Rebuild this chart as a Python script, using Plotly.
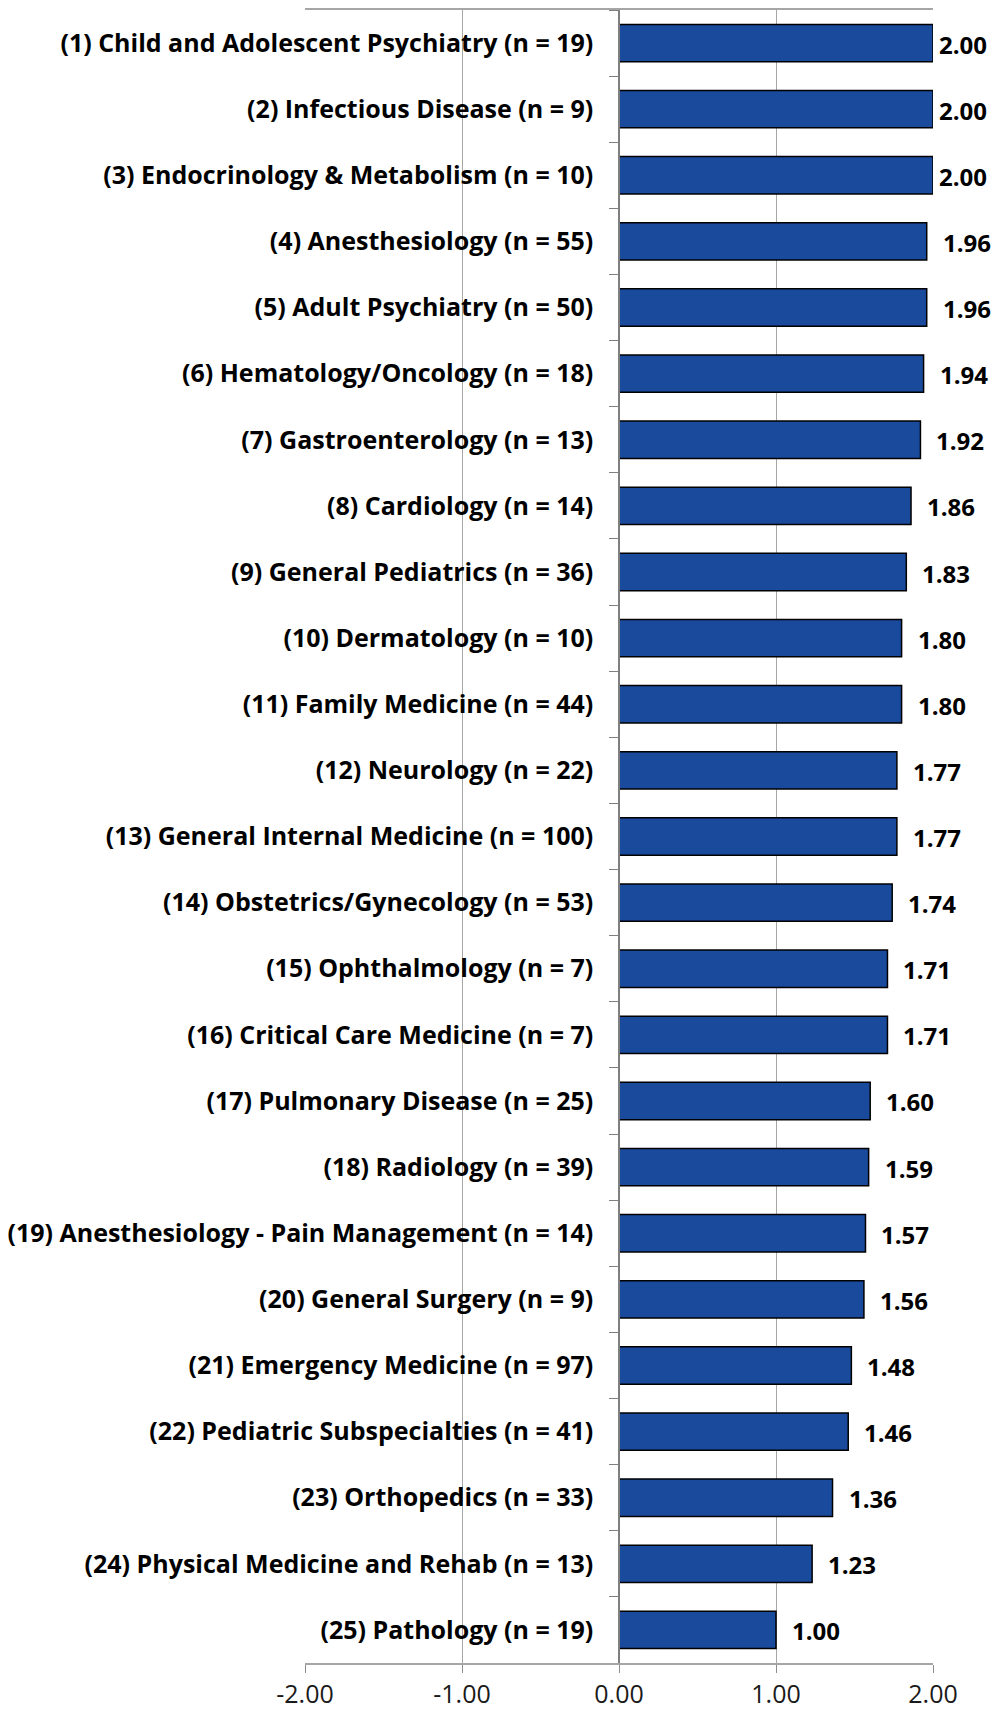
import plotly.graph_objects as go

# Mean score by specialty
specialties = [
    "Child and Adolescent Psychiatry", "Infectious Disease", "Endocrinology & Metabolism",
    "Anesthesiology", "Adult Psychiatry", "Hematology/Oncology", "Gastroenterology",
    "Cardiology", "General Pediatrics", "Dermatology", "Family Medicine", "Neurology",
    "General Internal Medicine", "Obstetrics/Gynecology", "Ophthalmology",
    "Critical Care Medicine", "Pulmonary Disease", "Radiology",
    "Anesthesiology - Pain Management", "General Surgery", "Emergency Medicine",
    "Pediatric Subspecialties", "Orthopedics", "Physical Medicine and Rehab", "Pathology",
]
counts = [19, 9, 10, 55, 50, 18, 13, 14, 36, 10, 44, 22, 100, 53, 7, 7, 25, 39, 14, 9, 97, 41, 33, 13, 19]
scores = [2.00, 2.00, 2.00, 1.96, 1.96, 1.94, 1.92, 1.86, 1.83, 1.80, 1.80, 1.77, 1.77, 1.74,
          1.71, 1.71, 1.60, 1.59, 1.57, 1.56, 1.48, 1.46, 1.36, 1.23, 1.00]
x_ticks = [-2, -1, 0, 1, 2]
x_tick_text = ["-2.00", "-1.00", "0.00", "1.00", "2.00"]

labels = [f"({i + 1}) {name} (n = {n})" for i, (name, n) in enumerate(zip(specialties, counts))]

FONT = "Open Sans"
X_MIN, X_MAX = -2, 2

fig = go.Figure(
    go.Bar(
        x=scores,
        y=labels,
        orientation="h",
        marker=dict(color="#1A4A9C", line=dict(color="#000000", width=1.5)),
        hoverinfo="x+y",
    )
)

# value labels to the right of each bar (pulled in slightly at the axis maximum)
for lab, v in zip(labels, scores):
    fig.add_annotation(
        x=v, y=lab, xref="x", yref="y",
        text=f"{v:.2f}", showarrow=False,
        xanchor="left", yanchor="middle",
        xshift=4 if v >= X_MAX - 0.005 else 14,
        yshift=-1,
        font=dict(family=FONT, size=24, color="#000000", weight=700),
    )

fig.update_layout(
    width=998, height=1713,
    margin=dict(l=305, r=65, t=10, b=50, autoexpand=False),
    paper_bgcolor="white", plot_bgcolor="white",
    bargap=0.435,
    showlegend=False,
    xaxis=dict(
        range=[X_MIN, X_MAX],
        tickvals=x_ticks,
        ticktext=x_tick_text,
        automargin=False,
        showgrid=True, gridcolor="#A6A6A6", gridwidth=1,
        zeroline=False,
        showline=True, mirror=True, linecolor="#A6A6A6", linewidth=1.5,
        ticks="outside", ticklen=8, tickcolor="#8C8C8C", tickwidth=1,
        tickfont=dict(family=FONT, size=25, color="#1A1A1A"),
        ticklabelstandoff=0,
    ),
    yaxis=dict(
        type="category",
        autorange="reversed",
        anchor="free", position=0.5,
        automargin=False,
        showline=True, linecolor="#7F7F7F", linewidth=1.5,
        ticks="outside", tickson="boundaries", ticklen=9, tickcolor="#7F7F7F", tickwidth=1,
        showgrid=False, zeroline=False,
        tickfont=dict(family=FONT, size=25, color="#000000", weight=700),
        ticklabelstandoff=20,
    ),
)

fig.write_html("out.html")
